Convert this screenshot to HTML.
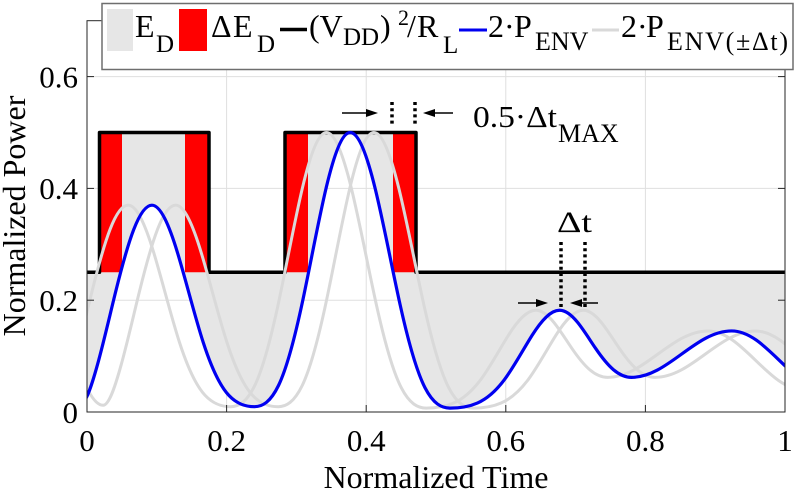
<!DOCTYPE html>
<html><head><meta charset="utf-8"></head>
<body style="margin:0;background:#fff">
<svg width="800" height="497" viewBox="0 0 800 497" xmlns="http://www.w3.org/2000/svg" font-family="Liberation Serif, Noto Serif CJK SC, DejaVu Serif, Times New Roman, serif" style="display:block">
<defs>
<clipPath id="ax"><rect x="87" y="20.7" width="698" height="391.3"/></clipPath>
<clipPath id="ab"><path d="M3.24 244.3 C30.89 244.3 51.67 405.29 79.32 405.29 C85.37 405.29 91.42 386.54 97.47 364.70 C103.52 342.86 109.57 316.38 115.62 291.91 C121.67 267.44 127.72 245.02 133.77 229.44 C139.82 213.86 145.86 205.17 151.91 205.17 C160.46 205.17 169.02 224.71 177.57 252.91 C186.12 281.11 194.67 316.00 203.22 342.38 C211.77 368.76 220.32 386.29 228.87 395.40 C237.42 404.51 245.97 406.69 254.52 406.69 C262.49 406.69 270.46 402.04 278.43 385.63 C286.40 369.22 294.36 339.74 302.33 302.44 C310.30 265.14 318.27 221.04 326.24 187.54 C334.21 154.04 342.18 132.5 350.15 132.5 C358.47 132.5 366.78 154.35 375.10 188.29 C383.42 222.23 391.73 266.84 400.05 304.44 C408.37 342.04 416.69 371.55 425.01 387.74 C433.33 403.93 441.64 408.09 449.96 408.09 C459.09 408.09 468.23 407.04 477.36 403.05 C486.49 399.06 495.62 391.50 504.75 379.21 C513.88 366.92 523.02 349.75 532.15 335.27 C541.28 320.79 550.42 310.26 559.55 310.26 C565.54 310.26 571.53 314.93 577.52 322.29 C583.51 329.65 589.50 339.43 595.49 348.21 C601.48 356.99 607.48 364.67 613.47 369.72 C619.46 374.77 625.45 377.34 631.44 377.34 C667.86 377.34 695.25 330.94 731.67 330.94 C766.27 330.94 792.28 389.64 826.88 389.64 L826.88 0 L3.24 0 Z"/></clipPath>
</defs>
<rect width="800" height="497" fill="#fff"/>
<!-- grid -->
<g stroke="#dfdfdf" stroke-width="1">
<line x1="226.6" y1="20.7" x2="226.6" y2="412"/>
<line x1="366.2" y1="20.7" x2="366.2" y2="412"/>
<line x1="505.8" y1="20.7" x2="505.8" y2="412"/>
<line x1="645.4" y1="20.7" x2="645.4" y2="412"/>
<line x1="87" y1="300.2" x2="785" y2="300.2"/>
<line x1="87" y1="188.4" x2="785" y2="188.4"/>
<line x1="87" y1="76.6" x2="785" y2="76.6"/>
</g>
<!-- fills -->
<g clip-path="url(#ab)">
<path fill="#e6e6e6" d="M87 412 L87 272.25 L99.5 272.25 L99.5 132.5 L209 132.5 L209 272.25 L285 272.25 L285 132.5 L416 132.5 L416 272.25 L785 272.25 L785 412Z"/>
<g fill="#ff0000">
<rect x="99.5" y="132.5" width="22.5" height="139.75"/>
<rect x="185" y="132.5" width="24" height="139.75"/>
<rect x="285" y="132.5" width="23" height="139.75"/>
<rect x="393" y="132.5" width="23" height="139.75"/>
</g>
</g>
<!-- black envelope -->
<path fill="none" stroke="#000" stroke-width="3.5" stroke-linejoin="round" d="M87 272.25 L99.5 272.25 L99.5 132.5 L209 132.5 L209 272.25 L285 272.25 L285 132.5 L416 132.5 L416 272.25 L785 272.25"/>
<!-- curves -->
<g clip-path="url(#ax)" fill="none" stroke-linejoin="round" stroke-linecap="round">
<path transform="translate(-23.73 0)" stroke="#d9d9d9" stroke-width="3" d="M3.24 244.3 C30.89 244.3 51.67 405.29 79.32 405.29 C85.37 405.29 91.42 386.54 97.47 364.70 C103.52 342.86 109.57 316.38 115.62 291.91 C121.67 267.44 127.72 245.02 133.77 229.44 C139.82 213.86 145.86 205.17 151.91 205.17 C160.46 205.17 169.02 224.71 177.57 252.91 C186.12 281.11 194.67 316.00 203.22 342.38 C211.77 368.76 220.32 386.29 228.87 395.40 C237.42 404.51 245.97 406.69 254.52 406.69 C262.49 406.69 270.46 402.04 278.43 385.63 C286.40 369.22 294.36 339.74 302.33 302.44 C310.30 265.14 318.27 221.04 326.24 187.54 C334.21 154.04 342.18 132.5 350.15 132.5 C358.47 132.5 366.78 154.35 375.10 188.29 C383.42 222.23 391.73 266.84 400.05 304.44 C408.37 342.04 416.69 371.55 425.01 387.74 C433.33 403.93 441.64 408.09 449.96 408.09 C459.09 408.09 468.23 407.04 477.36 403.05 C486.49 399.06 495.62 391.50 504.75 379.21 C513.88 366.92 523.02 349.75 532.15 335.27 C541.28 320.79 550.42 310.26 559.55 310.26 C565.54 310.26 571.53 314.93 577.52 322.29 C583.51 329.65 589.50 339.43 595.49 348.21 C601.48 356.99 607.48 364.67 613.47 369.72 C619.46 374.77 625.45 377.34 631.44 377.34 C667.86 377.34 695.25 330.94 731.67 330.94 C766.27 330.94 792.28 389.64 826.88 389.64"/>
<path transform="translate(23.73 0)" stroke="#d9d9d9" stroke-width="3" d="M3.24 244.3 C30.89 244.3 51.67 405.29 79.32 405.29 C85.37 405.29 91.42 386.54 97.47 364.70 C103.52 342.86 109.57 316.38 115.62 291.91 C121.67 267.44 127.72 245.02 133.77 229.44 C139.82 213.86 145.86 205.17 151.91 205.17 C160.46 205.17 169.02 224.71 177.57 252.91 C186.12 281.11 194.67 316.00 203.22 342.38 C211.77 368.76 220.32 386.29 228.87 395.40 C237.42 404.51 245.97 406.69 254.52 406.69 C262.49 406.69 270.46 402.04 278.43 385.63 C286.40 369.22 294.36 339.74 302.33 302.44 C310.30 265.14 318.27 221.04 326.24 187.54 C334.21 154.04 342.18 132.5 350.15 132.5 C358.47 132.5 366.78 154.35 375.10 188.29 C383.42 222.23 391.73 266.84 400.05 304.44 C408.37 342.04 416.69 371.55 425.01 387.74 C433.33 403.93 441.64 408.09 449.96 408.09 C459.09 408.09 468.23 407.04 477.36 403.05 C486.49 399.06 495.62 391.50 504.75 379.21 C513.88 366.92 523.02 349.75 532.15 335.27 C541.28 320.79 550.42 310.26 559.55 310.26 C565.54 310.26 571.53 314.93 577.52 322.29 C583.51 329.65 589.50 339.43 595.49 348.21 C601.48 356.99 607.48 364.67 613.47 369.72 C619.46 374.77 625.45 377.34 631.44 377.34 C667.86 377.34 695.25 330.94 731.67 330.94 C766.27 330.94 792.28 389.64 826.88 389.64"/>
<path stroke="#0000f0" stroke-width="3.2" d="M3.24 244.3 C30.89 244.3 51.67 405.29 79.32 405.29 C85.37 405.29 91.42 386.54 97.47 364.70 C103.52 342.86 109.57 316.38 115.62 291.91 C121.67 267.44 127.72 245.02 133.77 229.44 C139.82 213.86 145.86 205.17 151.91 205.17 C160.46 205.17 169.02 224.71 177.57 252.91 C186.12 281.11 194.67 316.00 203.22 342.38 C211.77 368.76 220.32 386.29 228.87 395.40 C237.42 404.51 245.97 406.69 254.52 406.69 C262.49 406.69 270.46 402.04 278.43 385.63 C286.40 369.22 294.36 339.74 302.33 302.44 C310.30 265.14 318.27 221.04 326.24 187.54 C334.21 154.04 342.18 132.5 350.15 132.5 C358.47 132.5 366.78 154.35 375.10 188.29 C383.42 222.23 391.73 266.84 400.05 304.44 C408.37 342.04 416.69 371.55 425.01 387.74 C433.33 403.93 441.64 408.09 449.96 408.09 C459.09 408.09 468.23 407.04 477.36 403.05 C486.49 399.06 495.62 391.50 504.75 379.21 C513.88 366.92 523.02 349.75 532.15 335.27 C541.28 320.79 550.42 310.26 559.55 310.26 C565.54 310.26 571.53 314.93 577.52 322.29 C583.51 329.65 589.50 339.43 595.49 348.21 C601.48 356.99 607.48 364.67 613.47 369.72 C619.46 374.77 625.45 377.34 631.44 377.34 C667.86 377.34 695.25 330.94 731.67 330.94 C766.27 330.94 792.28 389.64 826.88 389.64"/>
</g>
<!-- axes -->
<rect x="87" y="20.7" width="698" height="391.3" fill="none" stroke="#262626" stroke-width="1"/>
<g stroke="#262626" stroke-width="1">
<line x1="87" y1="412" x2="87" y2="405"/><line x1="226.6" y1="412" x2="226.6" y2="405"/><line x1="366.2" y1="412" x2="366.2" y2="405"/><line x1="505.8" y1="412" x2="505.8" y2="405"/><line x1="645.4" y1="412" x2="645.4" y2="405"/><line x1="785" y1="412" x2="785" y2="405"/>
<line x1="87" y1="20.7" x2="87" y2="27.7"/>
<line x1="87" y1="300.2" x2="94" y2="300.2"/><line x1="87" y1="188.4" x2="94" y2="188.4"/><line x1="87" y1="76.6" x2="94" y2="76.6"/>
<line x1="785" y1="300.2" x2="778" y2="300.2"/><line x1="785" y1="188.4" x2="778" y2="188.4"/><line x1="785" y1="76.6" x2="778" y2="76.6"/>
</g>
<!-- tick labels -->
<g font-size="31" text-anchor="middle" fill="#000">
<text x="87" y="451">0</text>
<text x="226.6" y="451">0.2</text>
<text x="366.2" y="451">0.4</text>
<text x="505.8" y="451">0.6</text>
<text x="645.4" y="451">0.8</text>
<text x="785" y="451">1</text>
</g>
<g font-size="31" text-anchor="end" fill="#000">
<text x="78" y="423">0</text>
<text x="78" y="311">0.2</text>
<text x="78" y="199">0.4</text>
<text x="78" y="87.5">0.6</text>
</g>
<text x="436" y="488" font-size="32" text-anchor="middle" fill="#000">Normalized Time</text>
<text transform="translate(25,216) rotate(-90)" font-size="32" text-anchor="middle" fill="#000">Normalized Power</text>
<!-- annotations -->
<g stroke="#000" stroke-width="3.5" stroke-dasharray="3 3.2">
<line x1="392" y1="102" x2="392" y2="126"/>
<line x1="415" y1="102" x2="415" y2="126"/>
<line x1="561" y1="242" x2="561" y2="310"/>
<line x1="585" y1="242" x2="585" y2="310"/>
</g>
<g stroke="#000" stroke-width="1.5">
<line x1="342" y1="113" x2="370" y2="113"/>
<line x1="431" y1="113" x2="453" y2="113"/>
<line x1="518" y1="303" x2="540" y2="303"/>
<line x1="578" y1="303" x2="598" y2="303"/>
</g>
<g fill="#000">
<polygon points="378,113 366,109 366,117"/>
<polygon points="423,113 435,109 435,117"/>
<polygon points="548,303 536,299 536,307"/>
<polygon points="570,303 582,299 582,307"/>
</g>
<text font-size="31" x="473" y="127" textLength="84" lengthAdjust="spacingAndGlyphs" fill="#000">0.5·Δt</text>
<text font-size="26" x="558" y="142" fill="#000">MAX</text>
<text font-size="30" x="557" y="232" textLength="35" lengthAdjust="spacingAndGlyphs" fill="#000">Δt</text>
<!-- legend -->
<rect x="102" y="3.5" width="691" height="66" fill="#fff" stroke="#6e6e6e" stroke-width="1.5"/>
<rect x="107" y="9" width="26" height="42" fill="#e6e6e6"/>
<rect x="179" y="9" width="28" height="42" fill="#ff0000"/>
<line x1="280" y1="29.5" x2="307" y2="29.5" stroke="#000" stroke-width="3.5"/>
<line x1="459" y1="30" x2="487" y2="30" stroke="#0000f0" stroke-width="3"/>
<line x1="592" y1="30" x2="619" y2="30" stroke="#d9d9d9" stroke-width="3"/>
<g font-size="32" fill="#000">
<text x="135" y="37">E</text>
<text x="211" y="37">Δ</text><text x="233" y="37">E</text>
<text x="309" y="37">(V</text><text x="380" y="37">)</text>
<text x="407" y="37">/</text><text x="417" y="37">R</text>
<text x="488" y="37">2</text><text x="504" y="37">·</text><text x="514" y="37">P</text>
<text x="621" y="37">2</text><text x="637" y="37">·</text><text x="646" y="37">P</text>
</g>
<g font-size="25" fill="#000">
<text x="156" y="52">D</text>
<text x="257" y="52">D</text>
<text x="343" y="45">DD</text>
<text x="443" y="53">L</text>
</g>
<text x="398" y="25" font-size="22" fill="#000">2</text>
<g font-size="26" fill="#000">
<text x="535" y="50">ENV</text>
<text x="667" y="50" textLength="121">ENV(±Δt)</text>
</g>
</svg>
</body></html>
